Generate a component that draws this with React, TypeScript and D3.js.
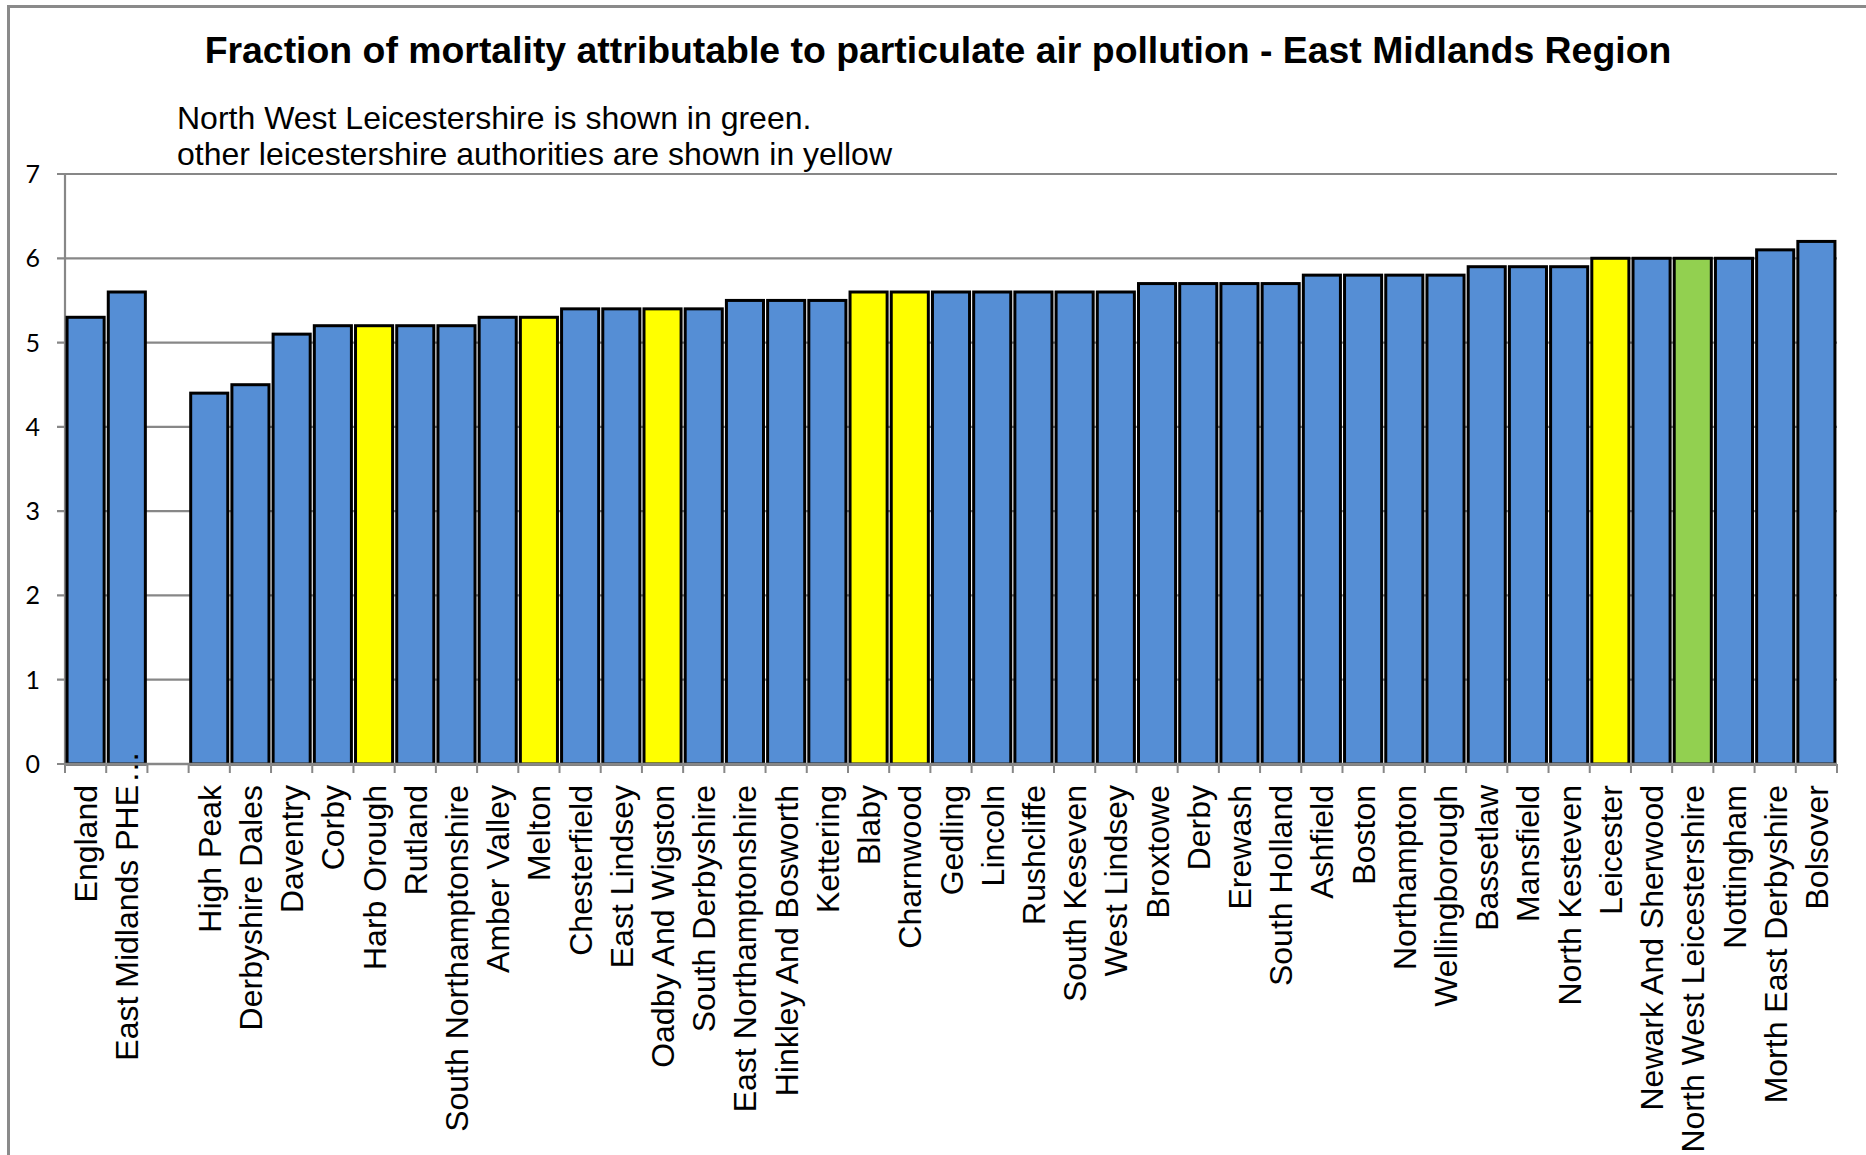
import React from "react";
import * as d3 from "d3";

const categories: string[] = [
  "England", "East Midlands PHE", "", "High Peak", "Derbyshire Dales", "Daventry", "Corby",
  "Harb Orough", "Rutland", "South Northamptonshire", "Amber Valley", "Melton", "Chesterfield",
  "East Lindsey", "Oadby And Wigston", "South Derbyshire", "East Northamptonshire",
  "Hinkley And Bosworth", "Kettering", "Blaby", "Charnwood", "Gedling", "Lincoln", "Rushcliffe",
  "South Keseven", "West Lindsey", "Broxtowe", "Derby", "Erewash", "South Holland", "Ashfield",
  "Boston", "Northampton", "Wellingborough", "Bassetlaw", "Mansfield", "North Kesteven",
  "Leicester", "Newark And Sherwood", "North West Leicestershire", "Nottingham",
  "Morth East Derbyshire", "Bolsover",
];

const values: (number | null)[] = [
  5.3, 5.6, null, 4.4, 4.5, 5.1, 5.2,
  5.2, 5.2, 5.2, 5.3, 5.3, 5.4,
  5.4, 5.4, 5.4, 5.5,
  5.5, 5.5, 5.6, 5.6, 5.6, 5.6, 5.6,
  5.6, 5.6, 5.7, 5.7, 5.7, 5.7, 5.8,
  5.8, 5.8, 5.8, 5.9, 5.9, 5.9,
  6.0, 6.0, 6.0, 6.0,
  6.1, 6.2,
];

const yellowCategories: string[] = ["Harb Orough", "Melton", "Oadby And Wigston", "Blaby", "Charnwood", "Leicester"];
const greenCategories: string[] = ["North West Leicestershire"];

const yTicks: number[] = [0, 1, 2, 3, 4, 5, 6, 7];

const titleText = "Fraction of mortality attributable to particulate air pollution - East Midlands Region";
const subtitleLines: string[] = [
  "North West Leicestershire is shown in green.",
  "other leicestershire authorities are shown in yellow",
];

const W = 1866;
const H = 1155;
const plotLeft = 65;
const plotRight = 1837;
const plotTop = 174;
const plotBottom = 764;

const BLUE = "#558ED5";
const YELLOW = "#FFFF00";
const GREEN = "#92D050";
const GRID = "#878787";

export default function App() {
  const x = d3.scaleBand<string>().domain(categories).range([plotLeft, plotRight]).paddingInner(0.1).paddingOuter(0.05);
  const y = d3.scaleLinear().domain([0, 7]).range([plotBottom, plotTop]);
  const step = x.step();
  const boundaries = d3.range(categories.length + 1).map((i) => plotLeft + i * step);

  const colorOf = (c: string) =>
    greenCategories.includes(c) ? GREEN : yellowCategories.includes(c) ? YELLOW : BLUE;

  return (
    <svg width={W} height={H} style={{ position: "absolute", left: 0, top: 0, background: "#fff" }}>
      <rect x={0} y={0} width={W} height={H} fill="#fff" />
      <rect x={8.5} y={6.5} width={W + 20} height={H + 20} fill="none" stroke="#8a8a8a" strokeWidth={3} />

      <text x={938} y={63} textAnchor="middle" fontFamily="'Liberation Sans', Arial, sans-serif" fontWeight="bold" fontSize={37.4} fill="#000">
        {titleText}
      </text>
      {subtitleLines.map((t, i) => (
        <text key={i} x={177} y={129 + i * 36} fontFamily="'Liberation Sans', Arial, sans-serif" fontSize={32} fill="#000">
          {t}
        </text>
      ))}

      {/* gridlines */}
      {yTicks.map((t) => (
        <line key={"g" + t} x1={plotLeft - 8} x2={plotRight} y1={y(t)} y2={y(t)} stroke={GRID} strokeWidth={2.2} />
      ))}
      {/* y axis */}
      <line x1={plotLeft} x2={plotLeft} y1={plotTop} y2={plotBottom} stroke={GRID} strokeWidth={2.2} />
      {yTicks.map((t) => (
        <text key={"yt" + t} x={40} y={y(t)} dy="0.36em" textAnchor="end" fontFamily="Lato, 'Open Sans', sans-serif" fontSize={25} fill="#000">
          {t}
        </text>
      ))}

      {/* bars */}
      {categories.map((c, i) => {
        const v = values[i];
        if (v == null) return null;
        return (
          <rect
            key={"b" + i}
            x={x(c)!}
            y={y(v)}
            width={x.bandwidth()}
            height={y(0) - y(v)}
            fill={colorOf(c)}
            stroke="#000"
            strokeWidth={3}
          />
        );
      })}

      {/* x axis */}
      <line x1={plotLeft} x2={plotRight} y1={plotBottom} y2={plotBottom} stroke={GRID} strokeWidth={2.5} />
      {boundaries.map((b, i) => (
        <line key={"xt" + i} x1={b} x2={b} y1={plotBottom} y2={plotBottom + 9} stroke={GRID} strokeWidth={2} />
      ))}

      {/* x labels */}
      {categories.map((c, i) => {
        if (!c) return null;
        const cx = x(c)! + x.bandwidth() / 2;
        return (
          <g key={"l" + i} transform={`translate(${cx},785) rotate(-90)`}>
            <text x={0} y={0} dy="0.36em" textAnchor="end" fontFamily="'Liberation Sans', Arial, sans-serif" fontSize={32} fill="#000">
              {c}
            </text>
            {c === "East Midlands PHE" && (
              <text x={2} y={0} dy="0.36em" textAnchor="start" fontFamily="'Liberation Sans', Arial, sans-serif" fontSize={32} fill="#000">
                …
              </text>
            )}
          </g>
        );
      })}
    </svg>
  );
}
